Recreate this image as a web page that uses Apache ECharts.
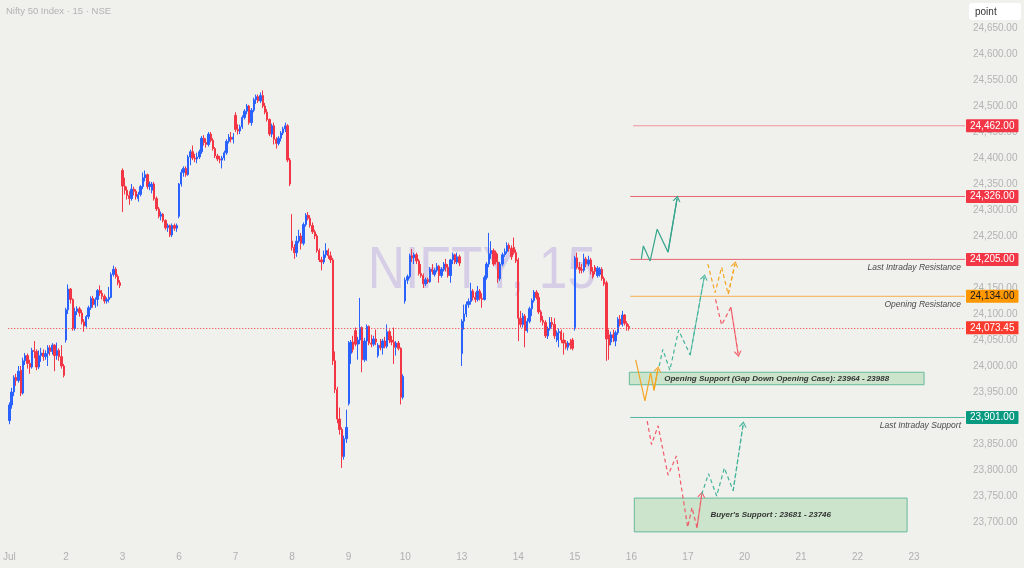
<!DOCTYPE html>
<html>
<head>
<meta charset="utf-8">
<script src="https://cdn.jsdelivr.net/npm/echarts@6/dist/echarts.min.js"></script>
<style>
html,body{margin:0;padding:0;background:#f0f0ec;}
#chart{width:1024px;height:568px;}
</style>
</head>
<body>
<div id="chart"></div>
<script>
// ---------------- DATA ----------------
const dayLabels = ['Jul','2','3','6','7','8','9','10','13','14','15','16','17','20','21','22','23'];
const barsPerDay = 25;
const totalBars = 423;

// 15-minute candles, each [open, close, low, high]
const jul01 = [
[23895,23925,23888,23930],[23925,23950,23918,23958],[23950,23978,23942,23982],[23978,23972,23962,23985],
[23972,23990,23968,24000],[23992,23948,23942,24000],[23948,24010,23945,24016],[24010,24020,24002,24025],
[24020,24005,23995,24024],[24005,23998,23985,24012],[23998,24030,23995,24035],[24030,24028,24015,24048],
[24028,23998,23992,24032],[23998,24020,23994,24030],[24020,24025,24008,24035],[24025,24018,24010,24032],
[24018,24024,24012,24030],[24024,24035,24000,24040],[24035,24028,24020,24040],[24028,24040,24022,24044],
[24040,24020,23990,24042],[24020,24030,24012,24045],[24030,24018,24010,24034],[24018,24000,23995,24040],
[24000,23982,23978,24004]];
const jul02 = [
[24050,24108,24045,24112],[24108,24148,24100,24157],[24148,24128,24120,24150],[24128,24072,24068,24130],
[24072,24105,24068,24112],[24105,24110,24098,24115],[24110,24102,24095,24114],[24102,24085,24080,24108],
[24085,24077,24066,24090],[24077,24095,24074,24098],[24095,24112,24090,24116],[24112,24130,24108,24134],
[24130,24118,24112,24135],[24118,24128,24112,24132],[24128,24145,24115,24148],[24145,24140,24135,24155],
[24140,24134,24128,24146],[24134,24125,24120,24138],[24125,24128,24120,24132],[24128,24132,24122,24152],
[24132,24176,24130,24180],[24176,24186,24172,24193],[24186,24172,24168,24190],[24172,24160,24155,24176],
[24160,24155,24150,24165]];
const jul03 = [
[24376,24346,24296,24380],[24346,24338,24330,24362],[24338,24328,24320,24345],[24328,24322,24310,24336],
[24322,24340,24318,24350],[24340,24336,24328,24345],[24336,24326,24320,24340],[24322,24330,24316,24335],
[24330,24345,24326,24348],[24345,24362,24340,24372],[24362,24368,24355,24376],[24368,24345,24340,24370],
[24345,24350,24338,24355],[24338,24350,24332,24354],[24350,24322,24318,24354],[24322,24302,24298,24326],
[24302,24288,24284,24306],[24288,24292,24280,24297],[24292,24280,24276,24294],[24280,24266,24262,24282],
[24266,24270,24258,24274],[24270,24252,24248,24272],[24252,24270,24248,24274],[24270,24265,24260,24274],
[24265,24270,24258,24274]];
const jul06 = [
[24288,24350,24284,24352],[24350,24372,24345,24378],[24372,24380,24364,24384],[24380,24368,24364,24384],
[24368,24402,24366,24406],[24402,24412,24386,24416],[24412,24400,24396,24424],[24400,24398,24392,24408],
[24398,24402,24390,24410],[24402,24412,24398,24416],[24412,24438,24408,24442],[24438,24430,24424,24444],
[24430,24426,24420,24438],[24426,24446,24422,24450],[24446,24434,24430,24450],[24434,24418,24414,24438],
[24418,24404,24400,24421],[24404,24398,24394,24408],[24398,24396,24390,24404],[24396,24400,24380,24404],
[24400,24410,24395,24414],[24410,24432,24406,24436],[24432,24440,24428,24446],[24440,24436,24430,24450],
[24436,24440,24428,24448]];
const jul07 = [
[24482,24455,24450,24488],[24455,24452,24445,24465],[24452,24460,24446,24464],[24460,24478,24456,24482],
[24478,24490,24474,24494],[24490,24500,24484,24504],[24500,24468,24464,24502],[24468,24492,24462,24496],
[24492,24512,24488,24516],[24512,24518,24504,24522],[24518,24510,24506,24522],[24510,24520,24506,24526],
[24520,24500,24496,24530],[24500,24488,24484,24506],[24488,24474,24470,24494],[24474,24446,24442,24476],
[24446,24462,24440,24466],[24462,24436,24426,24468],[24436,24428,24418,24440],[24428,24438,24424,24442],
[24438,24448,24432,24452],[24448,24456,24444,24460],[24456,24462,24450,24468],[24462,24396,24392,24465],
[24396,24350,24346,24400]];
const jul08 = [
[24240,24228,24222,24292],[24228,24218,24206,24234],[24218,24240,24210,24250],[24240,24250,24236,24262],
[24250,24236,24224,24256],[24236,24272,24232,24276],[24272,24290,24268,24294],[24290,24284,24280,24296],
[24284,24270,24266,24290],[24270,24258,24254,24276],[24258,24250,24244,24262],[24250,24222,24218,24254],
[24222,24204,24200,24226],[24204,24200,24184,24210],[24200,24214,24196,24222],[24214,24222,24208,24236],
[24222,24212,24206,24226],[24212,24204,24198,24220],[24204,24010,24002,24208],[24010,23955,23948,24028],
[23955,23898,23890,23960],[23898,23878,23868,23920],[23878,23826,23804,23882],[23826,23860,23820,23866],
[23860,23882,23852,23916]];
const jul09 = [
[23928,24045,23924,24048],[24024,24046,24004,24050],[24046,24032,24026,24058],[24068,24042,24038,24074],
[24042,24050,24012,24056],[24050,24074,24042,24131],[24074,24012,23988,24076],[24012,24048,24008,24054],
[24048,24076,24010,24080],[24076,24044,24040,24078],[24044,24042,24036,24060],[24042,24052,24038,24058],
[24052,24046,24040,24070],[24020,24040,24016,24044],[24040,24035,24030,24052],[24035,24048,24022,24052],
[24048,24038,24034,24056],[24038,24066,24034,24080],[24066,24050,24044,24070],[24050,24046,24040,24058],
[24046,24036,24004,24074],[24036,24044,24020,24048],[24044,24034,24030,24048],[24034,23940,23926,24036],
[23940,23980,23936,23984]];
const jul10 = [
[24125,24165,24120,24170],[24165,24172,24158,24176],[24172,24212,24168,24216],[24212,24208,24200,24225],
[24208,24214,24196,24218],[24214,24202,24196,24218],[24202,24178,24174,24206],[24178,24174,24170,24196],
[24174,24158,24150,24178],[24158,24166,24154,24170],[24166,24162,24158,24170],[24162,24186,24160,24190],
[24186,24182,24176,24196],[24176,24184,24172,24188],[24184,24192,24180,24198],[24192,24174,24160,24194],
[24174,24186,24170,24190],[24186,24196,24182,24200],[24196,24190,24182,24206],[24190,24174,24170,24196],
[24174,24204,24160,24206],[24204,24214,24196,24218],[24214,24200,24196,24216],[24200,24210,24196,24218],
[24210,24198,24192,24214]];
const jul13 = [
[24024,24086,24000,24090],[24086,24100,24070,24118],[24100,24118,24094,24124],[24118,24124,24112,24130],
[24124,24144,24118,24160],[24144,24132,24126,24148],[24132,24128,24122,24142],[24128,24144,24124,24154],
[24144,24130,24126,24148],[24130,24128,24112,24140],[24128,24170,24126,24174],[24170,24196,24166,24200],
[24196,24216,24190,24256],[24216,24222,24206,24240],[24222,24196,24192,24226],[24218,24200,24195,24222],
[24200,24168,24160,24216],[24168,24196,24164,24200],[24196,24214,24192,24218],[24214,24220,24210,24226],
[24220,24232,24216,24238],[24232,24226,24220,24236],[24226,24210,24204,24232],[24228,24218,24214,24247],
[24218,24202,24198,24224]];
const jul14 = [
[24204,24092,24048,24208],[24092,24080,24074,24106],[24080,24096,24074,24102],[24096,24068,24036,24100],
[24068,24086,24064,24092],[24086,24110,24082,24114],[24110,24126,24096,24130],[24126,24142,24122,24146],
[24142,24132,24128,24146],[24132,24104,24100,24140],[24104,24088,24084,24108],[24088,24084,24078,24096],
[24084,24058,24054,24088],[24058,24072,24052,24076],[24072,24084,24068,24094],[24084,24080,24074,24094],
[24080,24058,24052,24092],[24050,24064,24046,24068],[24064,24066,24036,24072],[24066,24050,24044,24070],
[24050,24044,24022,24064],[24044,24036,24032,24050],[24036,24044,24030,24048],[24044,24040,24032,24052],
[24050,24034,24030,24054]];
const jul15 = [
[24074,24208,24068,24212],[24208,24190,24186,24218],[24190,24186,24178,24200],[24186,24184,24178,24196],
[24184,24206,24180,24216],[24206,24196,24190,24210],[24196,24204,24192,24212],[24204,24182,24176,24208],
[24182,24172,24168,24190],[24190,24182,24176,24194],[24174,24188,24170,24192],[24176,24186,24172,24190],
[24186,24168,24164,24190],[24168,24158,24154,24172],[24160,24052,24010,24164],[24060,24040,24012,24070],
[24046,24060,24040,24066],[24060,24054,24046,24070],[24048,24064,24038,24068],[24064,24090,24060,24094],
[24090,24080,24076,24098],[24080,24098,24076,24106],[24098,24082,24078,24100],[24082,24076,24068,24086],
[24076,24073.45,24068,24080]];

const lastPrice = 24073.45;

// horizontal levels
const levelPrices = [24462, 24326, 24205, 24134, 23901];
const levelNotes  = ['', '', 'Last Intraday Resistance', 'Opening Resistance', 'Last Intraday Support'];
const levelStartBars = [275.8, 274.5, 274.5, 274.5, 274.5];

// zones
const zoneLows   = [23964, 23681];
const zoneHighs  = [23988, 23746];
const zoneStarts = [274.1, 276.3];
const zoneEnds   = [404.4, 396.9];
const zoneTexts  = ['Opening Support (Gap Down Opening Case): 23964 - 23988', "Buyer's Support : 23681 - 23746"];

// projected paths: [barIndex, price]
const bullBreakoutPath   = [[279.4,24206],[280.3,24231],[283.3,24202],[286.4,24263],[291.2,24219],[295.2,24322]];
const gapDownDipPath     = [[276.9,24012],[281.0,23933],[283.5,23987],[285.0,23953],[286.7,23994]];
const recoveryPath       = [[287.3,24000],[288.9,24032],[292.0,23992],[295.9,24069],[301.0,24021],[307.2,24171]];
const resistanceTestPath = [[308.8,24196],[312.0,24141],[314.9,24190],[317.8,24138],[320.8,24196]];
const rejectionPath      = [[312.2,24128],[314.9,24079],[319.0,24113],[322.2,24023]];
const breakdownPath      = [[282.0,23894],[283.9,23849],[286.8,23885],[291.2,23790],[294.9,23827],[299.9,23690],[301.8,23728],[304.0,23689],[306.1,23753]];
const supportBouncePath  = [[306.1,23753],[309.1,23793],[312.7,23750],[316.1,23804],[320.0,23760],[324.4,23888]];

// ---------------- BUILD ----------------
const candles = [].concat(jul01, jul02, jul03, jul06, jul07, jul08, jul09, jul10, jul13, jul14, jul15);
const categories = [];
for (let i = 0; i < totalBars; i++) {
  categories.push(i % barsPerDay === 0 ? dayLabels[i / barsPerDay] : ' ');
}
const fmt = v => v.toLocaleString('en-US', {minimumFractionDigits: 2, maximumFractionDigits: 2});

const FONT = '"Liberation Sans", Arial, sans-serif';
const UP = '#2962ff', DOWN = '#f23645';
const levelLineColors = ['#f0959c', '#e8646f', '#e8646f', '#f7ae4f', '#4fb6a0'];
const levelBoxBg = ['#f23645', '#f23645', '#f23645', '#ff9800', '#089981'];
const levelBoxFg = ['#ffffff', '#ffffff', '#ffffff', '#131722', '#ffffff'];

// level lines as their own series
const levelSeries = levelPrices.map((v, i) => ({
  type: 'line', name: 'level' + i, xAxisIndex: 1, yAxisIndex: 0, silent: true,
  data: [[levelStartBars[i], v], [totalBars - 0.5, v]],
  showSymbol: false, symbol: 'none', color: levelLineColors[i],
  lineStyle: {color: levelLineColors[i], width: 1, type: 'solid'}, z: 4
}));

// price boxes and notes (transparent marker lines carrying the labels)
const clear = {color: 'rgba(0,0,0,0)', width: 1};
const labelMarks = [];
levelPrices.forEach((v, i) => {
  labelMarks.push([
    {coord: [levelStartBars[i], v], lineStyle: clear,
     label: {show: true, position: 'end', formatter: fmt(v), backgroundColor: levelBoxBg[i], color: levelBoxFg[i],
             padding: [2, 4, 1, 4], fontSize: 10, distance: 1, fontFamily: FONT, borderRadius: 1}},
    {coord: [totalBars - 0.5, v], lineStyle: clear}
  ]);
  if (levelNotes[i]) {
    labelMarks.push([
      {coord: [levelStartBars[i], v], lineStyle: clear,
       label: {show: true, position: 'insideEndBottom', formatter: levelNotes[i], color: '#4a4a4a',
               fontStyle: 'italic', fontSize: 8.5, distance: 4, fontFamily: FONT}},
      {coord: [totalBars - 0.5, v], lineStyle: clear}
    ]);
  }
});

const zoneAreas = zoneLows.map((lo, i) => ([
  {coord: [zoneStarts[i], zoneHighs[i]],
   itemStyle: {color: '#cbe4cb', borderColor: '#66bb9f', borderWidth: 1},
   label: {show: true, position: 'inside', formatter: zoneTexts[i], color: '#333', fontStyle: 'italic',
           fontWeight: 'bold', fontSize: 8, fontFamily: FONT}},
  {coord: [zoneEnds[i], lo]}
]));

const chevron = 'path://M0,10 L5,0 L10,10 L8.4,10 L5,3.2 L1.6,10 Z';
function pathSeries(name, pts, color, dashed) {
  const ls = {color: color, width: 1.2, type: dashed ? [4, 3] : 'solid'};
  return {
    type: 'line', name: name, xAxisIndex: 1, yAxisIndex: 0, data: pts, color: color,
    showSymbol: false, symbol: 'none', lineStyle: ls, z: 5, silent: true,
    markLine: {
      silent: true, symbol: ['none', chevron], symbolSize: [8, 6],
      lineStyle: ls, itemStyle: {color: color}, label: {show: false},
      data: [[{coord: pts[pts.length - 2]}, {coord: pts[pts.length - 1]}]]
    }
  };
}

const option = {
  backgroundColor: '#f0f0ec',
  animation: false,
  textStyle: {fontFamily: FONT},
  grid: {left: 0, right: 59, top: 2, bottom: 20},
  xAxis: [
    {type: 'category', data: categories, boundaryGap: true,
     axisLine: {show: false}, axisTick: {show: false}, splitLine: {show: false},
     axisLabel: {color: '#b0b0b0', fontSize: 10, margin: 4,
                 interval: (idx) => idx % barsPerDay === 0}},
    {type: 'value', min: -0.5, max: totalBars - 0.5, show: false}
  ],
  yAxis: [{
    type: 'value', position: 'right', min: 23650, max: 24700, interval: 50, scale: true,
    axisLine: {show: false}, axisTick: {show: false}, splitLine: {show: false},
    axisLabel: {color: '#b3b3b3', fontSize: 10, margin: 8, showMinLabel: false, showMaxLabel: false,
                formatter: v => fmt(v)}
  }],
  graphic: [
    {type: 'text', x: 482, y: 271, scaleX: 0.86, z: 0, silent: true,
     style: {text: 'NIFTY, 15', fill: '#d6cee7', font: '60px "Liberation Sans", Arial, sans-serif',
             textAlign: 'center', textVerticalAlign: 'middle'}},
    {type: 'text', x: 6, y: 6, z: 50, silent: true,
     style: {text: 'Nifty 50 Index \u00b7 15 \u00b7 NSE', fill: '#b3b3b3', font: '9.5px "Liberation Sans", Arial, sans-serif'}},
    {type: 'rect', x: 969, y: 3, z: 50, silent: true, shape: {width: 52, height: 17, r: 3},
     style: {fill: '#ffffff'}},
    {type: 'text', x: 975, y: 7, z: 51, silent: true,
     style: {text: 'point', fill: '#333333', font: '10px "Liberation Sans", Arial, sans-serif'}}
  ],
  series: [
    {
      type: 'candlestick', name: 'NIFTY', xAxisIndex: 0, yAxisIndex: 0, data: candles,
      barWidth: 1.8, z: 3,
      itemStyle: {color: UP, color0: DOWN, borderColor: UP, borderColor0: DOWN, borderWidth: 1},
      markLine: {
        silent: true, symbol: ['none', 'none'],
        data: [{yAxis: lastPrice, lineStyle: {color: '#f23645', width: 1, type: [1, 2]},
                label: {show: true, position: 'end', formatter: fmt(lastPrice), backgroundColor: '#fb3a2e',
                        color: '#ffffff', padding: [2, 4, 1, 4], fontSize: 10, distance: 1, fontFamily: FONT}}]
      }
    },
    ...levelSeries,
    {
      type: 'line', name: 'levelLabels', xAxisIndex: 1, yAxisIndex: 0, silent: true,
      data: levelPrices.map((v, i) => [levelStartBars[i], v]),
      showSymbol: false, symbol: 'none', lineStyle: {opacity: 0}, z: 6,
      markLine: {silent: true, symbol: ['none', 'none'], data: labelMarks},
      markArea: {silent: true, data: zoneAreas}
    },
    pathSeries('bull', bullBreakoutPath, '#35a58d', false),
    pathSeries('dip', gapDownDipPath, '#f5a623', false),
    pathSeries('recovery', recoveryPath, '#45b59b', true),
    pathSeries('resTest', resistanceTestPath, '#f5a623', true),
    pathSeries('rejection', rejectionPath, '#f15c68', true),
    pathSeries('breakdown', breakdownPath, '#f15c68', true),
    pathSeries('bounce', supportBouncePath, '#45b59b', true)
  ]
};

const chart = echarts.init(document.getElementById('chart'));
chart.setOption(option);
</script>
</body>
</html>
